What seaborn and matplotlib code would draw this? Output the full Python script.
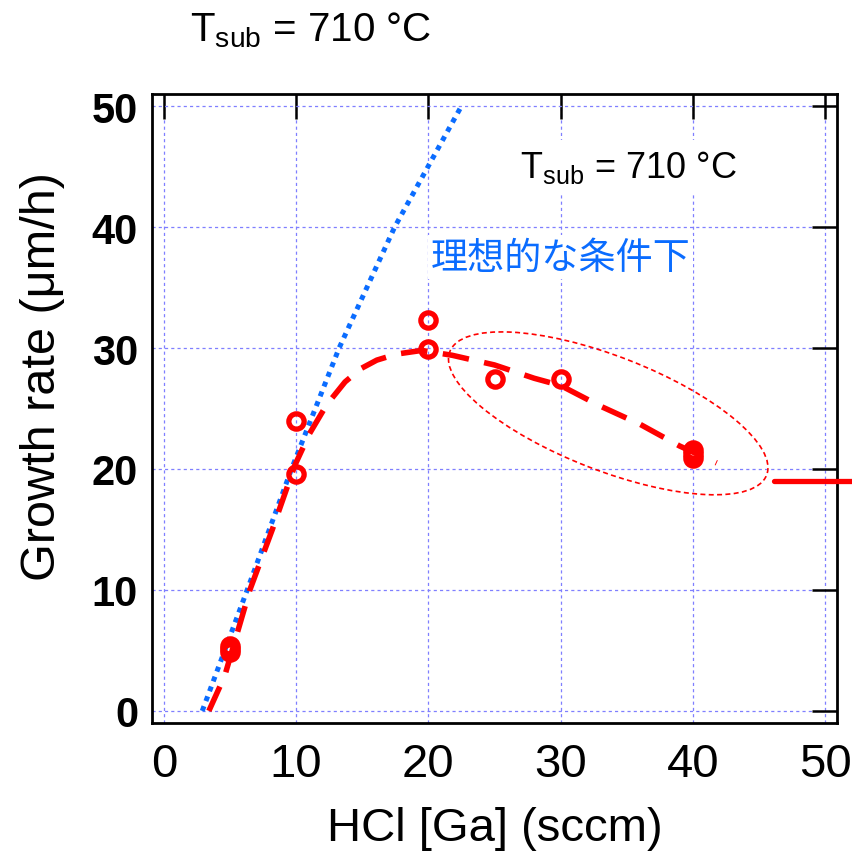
import matplotlib
matplotlib.use("Agg")
import matplotlib.pyplot as plt
import matplotlib.transforms as mtransforms
from matplotlib.patches import Ellipse
import seaborn as sns
import pandas as pd
import numpy as np

# measured growth rates
hcl_meas = [5, 5, 5, 10, 10, 20, 20, 25, 30, 40, 40, 40]
rate_meas = [5.4, 5.15, 4.9, 24.0, 19.6, 32.3, 29.9, 27.4, 27.4, 21.6, 21.2, 20.9]

# ideal-condition curve (blue dotted)
hcl_ideal = [2.9, 6.3, 9.65, 13.25, 17.45, 22.5]
rate_ideal = [0, 10, 20, 30, 40, 50]

# fitted trend (red dashed)
hcl_fit = [3.4, 4.6, 6.5, 8.2, 9.9, 11.0, 12.3, 13.7, 14.9, 16.1, 17.6, 19.5,
           21.8, 25.0, 28.0, 30.0, 33.0, 36.0, 39.0, 41.8]
rate_fit = [0, 2.9, 10.0, 15.0, 20.3, 22.9, 25.3, 27.2, 28.3, 29.0, 29.5, 29.8,
            29.4, 28.6, 27.5, 26.9, 25.2, 23.7, 21.9, 20.5]

# stray red segment sticking out at the right edge
stray_x = [46.1, 52.5]
stray_y = [19.0, 19.0]

# ellipse around the high-HCl points
ell_center = (33.6, 24.6)

x_ticks = [0, 10, 20, 30, 40, 50]
y_ticks = [0, 10, 20, 30, 40, 50]

RED = "#ff0000"
BLUE = "#0a6cff"

sns.set_style("white")
plt.rcParams["font.family"] = ["Liberation Sans", "Noto Sans CJK JP", "DejaVu Sans"]
plt.rcParams["mathtext.fontset"] = "custom"
plt.rcParams["mathtext.rm"] = "Liberation Sans"
plt.rcParams["mathtext.it"] = "Liberation Sans"
plt.rcParams["text.color"] = "black"
plt.rcParams["axes.labelcolor"] = "black"
plt.rcParams["xtick.color"] = "black"
plt.rcParams["ytick.color"] = "black"

fig = plt.figure(figsize=(8.52, 8.53), dpi=100)
ax = fig.add_axes([152 / 852, 1 - 724 / 853, (837 - 152) / 852, (724 - 95) / 853])

df_ideal = pd.DataFrame({"x": hcl_ideal, "y": rate_ideal})
df_fit = pd.DataFrame({"x": hcl_fit, "y": rate_fit})
df_meas = pd.DataFrame({"x": hcl_meas, "y": rate_meas})

sns.lineplot(data=df_ideal, x="x", y="y", ax=ax, color=BLUE, lw=3.6, sort=False,
             linestyle=(0, (1, 1.1)), zorder=3)
ax.lines[-1].set_dash_capstyle("butt")
sns.lineplot(data=df_fit, x="x", y="y", ax=ax, color=RED, lw=4.0, sort=False,
             linestyle=(0, (4.8, 2.8)), zorder=4)
ax.plot(stray_x, stray_y, color=RED, lw=3.8, clip_on=False, zorder=4)

ax.plot(df_meas["x"], df_meas["y"], ls="none", marker="o", ms=11, mew=3.8,
        mec=RED, mfc="none", zorder=5)

# ellipse drawn in screen units, anchored at a data position
tr = fig.dpi_scale_trans + mtransforms.ScaledTranslation(ell_center[0], ell_center[1], ax.transData)
ax.add_patch(Ellipse((0, 0), 3.40, 1.14, angle=-21.3, transform=tr, fill=False,
                     edgecolor=RED, lw=1.2, linestyle=(0, (3, 2)), zorder=4))

ax.set_xlim(-0.9, 50.9)
ax.set_ylim(-1, 51)
ax.set_xticks(x_ticks)
ax.set_yticks(y_ticks)
ax.grid(True, color="#7f7fff", lw=0.9, linestyle=(0, (2.5, 2.5)))
ax.set_axisbelow(True)

for s in ax.spines.values():
    s.set_linewidth(2.0)
    s.set_color("black")
ax.tick_params(direction="in", length=18, width=1.8, top=True, right=True, color="black")
ax.tick_params(axis="x", pad=14)
ax.tick_params(axis="y", pad=10)
for lab in ax.get_xticklabels():
    lab.set_fontsize(34)
for lab in ax.get_yticklabels():
    lab.set_fontsize(30)
    lab.set_fontweight("bold")

ax.set_xlabel("HCl [Ga] (sccm)", fontsize=34, labelpad=14)
ax.set_ylabel("Growth rate (\u03bcm/h)", fontsize=35)
ax.yaxis.set_label_coords(-0.127, 0.552)

ax.text(26.9, 45.0, r"T$_{\mathrm{sub}}$ = 710 °C", fontsize=26, va="center", ha="left",
        zorder=6, bbox=dict(facecolor="white", edgecolor="none", pad=6))
ax.text(20.2, 37.5, "理想的な条件下", fontsize=26.7, color=BLUE, va="center", ha="left",
        family=["Noto Sans CJK JP", "DejaVu Sans"], zorder=6,
        bbox=dict(facecolor="white", edgecolor="none", pad=2))

fig.text(190 / 852, 1 - 30 / 853, r"T$_{\mathrm{sub}}$ = 710 °C", fontsize=29,
         va="center", ha="left")

fig.savefig("out.png", dpi=100)
